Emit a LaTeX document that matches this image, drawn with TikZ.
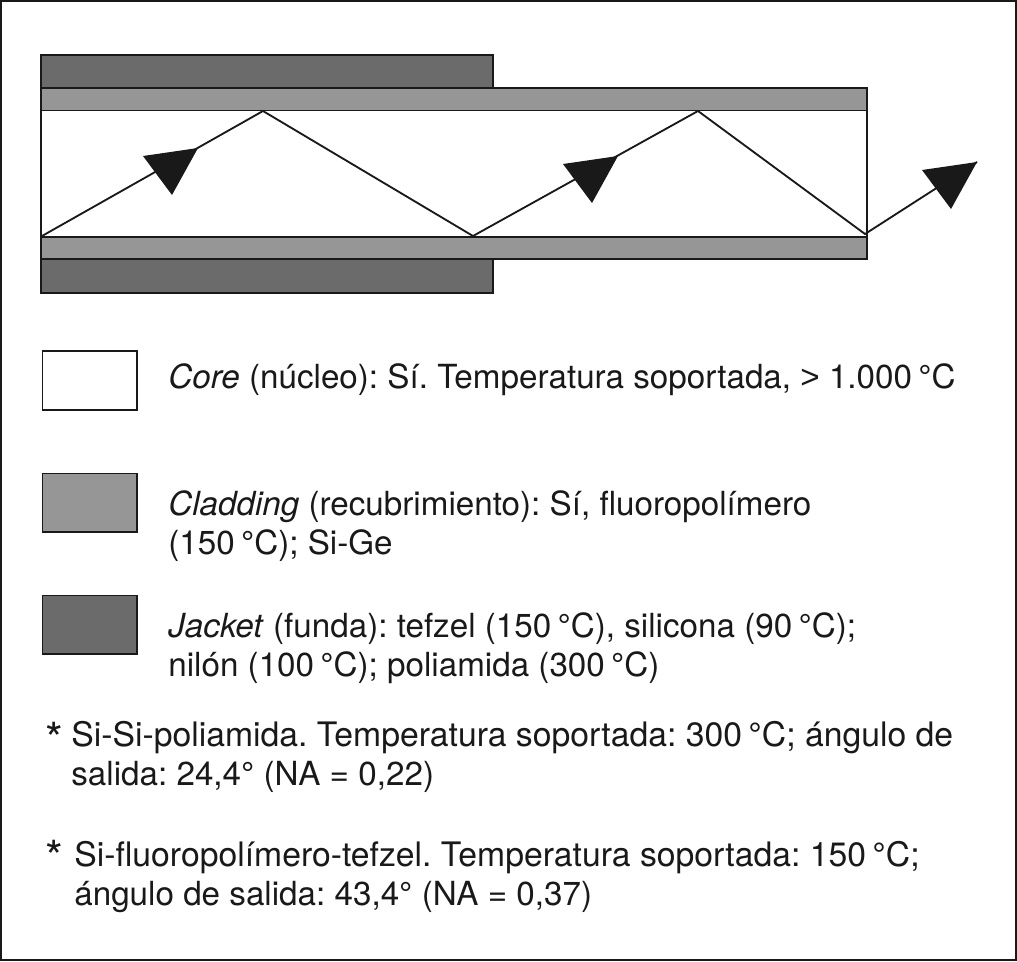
\documentclass[tikz,border=0pt]{standalone}
\usepackage{fontspec}
\setmainfont{TeX Gyre Heros}
\newfontfamily\symfont{Liberation Sans}
\frenchspacing
\definecolor{claddinggray}{gray}{0.59}
\definecolor{jacketgray}{gray}{0.42}
\definecolor{inkgray}{gray}{0.1}
\newcommand{\legendsize}{\fontsize{18.9}{22.4}\selectfont}
\newcommand{\degC}{\kern-1.7pt{\symfont °}C}
\tikzset{
  layer/.style={draw=inkgray,line width=1.1pt},
  swatch/.style={draw=inkgray,line width=1.1pt,minimum width=95*0.567pt,minimum height=59*0.567pt,inner sep=0pt,anchor=north west},
  legendtext/.style={anchor=base west,inner sep=0pt,align=left,text=inkgray,font=\legendsize},
  notetext/.style={legendtext,anchor=north west,font=\fontsize{19.2}{22.4}\selectfont},
  starmark/.style={legendtext,font=\fontsize{26}{26}\selectfont},
  ray/.style={draw=inkgray,line width=1.05pt},
}
\begin{document}
\begin{tikzpicture}[x=0.02cm,y=-0.02cm]
        \useasboundingbox (0,0) rectangle (1017,961);
        \draw[inkgray,line width=1.3pt] (1,1) rectangle (1016,960);
        % fibre
        \draw[layer,fill=jacketgray] (41,55) rectangle (493,88);
        \draw[layer,fill=jacketgray] (41,259) rectangle (493,293);
        \draw[layer,fill=claddinggray] (41,88) rectangle (867,110.5);
        \draw[layer,fill=claddinggray] (41,237) rectangle (867,259);
        \draw[layer] (41,110)--(41,237);
        \draw[layer] (867,110)--(867,237);
        % ray
        \coordinate (start) at (42,236);
        \coordinate (topa) at (263,111);
        \coordinate (bota) at (473,236);
        \coordinate (topb) at (698,111);
        \coordinate (botb) at (865,234);
        \coordinate (tipc) at (977,162);
        \draw[ray] (start)--(topa)--(bota)--(topb)--(botb)--(tipc);
        \foreach \tipx/\tipy in {198/148,618/156,977/162}
          \fill[inkgray,shift={(\tipx,\tipy)}] (0,0)--(-55,8)--(-26,47)--cycle;
        % legend
        \node[swatch,fill=white] (core) at (41.5,350) {};
        \node[swatch,fill=claddinggray] (cladding) at (41.5,472.5) {};
        \node[swatch,fill=jacketgray] (jacket) at (41.5,594.5) {};
        \node[legendtext] (coretext) at (168,388) {\textit{Core} (núcleo): Sí. Temperatura soportada, {\symfont >} 1.000 \degC};
        \node[legendtext,anchor=north west] (claddingtext) at (168,490) {\textit{Cladding} (recubrimiento): Sí, fluoropolímero\\(150 \degC); Si-Ge};
        \node[legendtext,anchor=north west] (jackettext) at (168,612) {\textit{Jacket} (funda): tefzel (150 \degC), silicona (90 \degC);\\nilón (100 \degC); poliamida (300 \degC)};
        % notes
        \node[starmark] (stara) at (45,755) {*};
        \node[notetext] (notea) at (71,721) {Si-Si-poliamida. Temperatura soportada: 300 \degC; ángulo de\\{\legendsize salida: 24,4{\symfont °} (NA = 0,22)}};
        \node[starmark] (starb) at (45,873) {*};
        \node[notetext] (noteb) at (74,841) {Si-fluoropolímero-tefzel. Temperatura soportada: 150 \degC;\\{\legendsize ángulo de salida: 43,4{\symfont °} (NA = 0,37)}};
      \end{tikzpicture}
\end{document}
